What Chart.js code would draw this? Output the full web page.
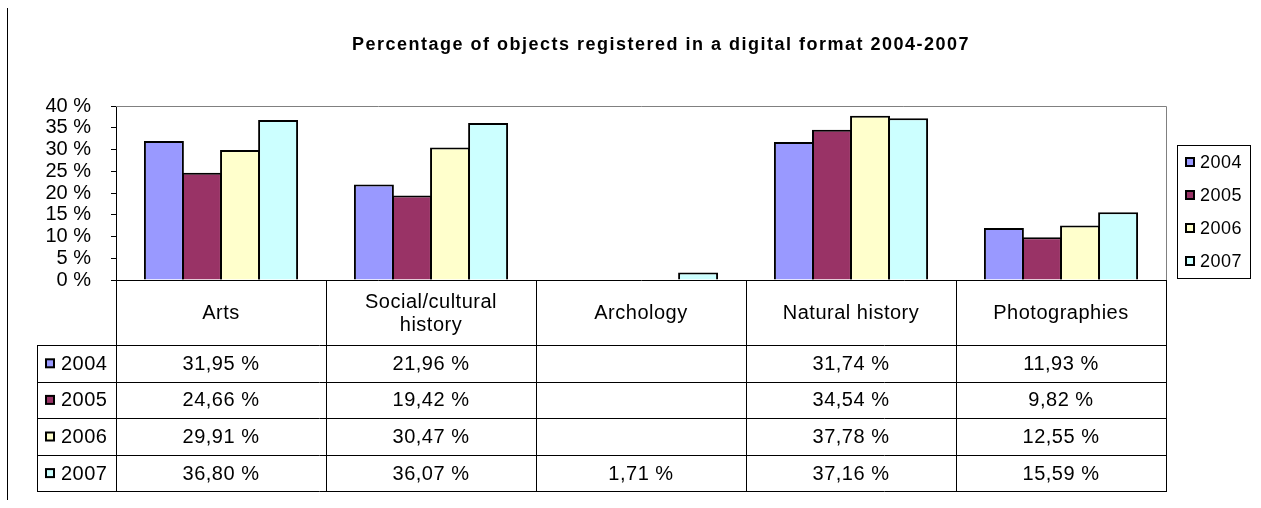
<!DOCTYPE html>
<html>
<head>
<meta charset="utf-8">
<script src="https://cdn.jsdelivr.net/npm/chart.js@4"></script>
<style>
  html, body { margin: 0; padding: 0; background: #fff; }
  #wrap { width: 1261px; height: 508px; position: relative; }
</style>
</head>
<body>
<div id="wrap"><canvas id="chart"></canvas></div>
<script>
// Categories and yearly values (percent)
const categories = ["Arts", ["Social/cultural", "history"], "Archology", "Natural history", "Photographies"];
const years = ["2004", "2005", "2006", "2007"];
const values2004 = [31.95, 21.96, null, 31.74, 11.93];
const values2005 = [24.66, 19.42, null, 34.54, 9.82];
const values2006 = [29.91, 30.47, null, 37.78, 12.55];
const values2007 = [36.80, 36.07, 1.71, 37.16, 15.59];
const yTicks = [0, 5, 10, 15, 20, 25, 30, 35, 40];
const titleText = "Percentage of objects registered in a digital format 2004-2007";

const colors = ["#9999FF", "#993366", "#FFFFCC", "#CCFFFF"];
const series = [values2004, values2005, values2006, values2007];
const FONT = "'Liberation Sans', Arial, sans-serif";

const fmt = (v) => v.toFixed(2).replace(".", ",") + " %";

// Draws title, plot frame, legend and the data table under the chart
const excelExtras = {
  id: "excelExtras",
  beforeDatasetsDraw(chart) {
    const { ctx, chartArea: a } = chart;
    ctx.save();
    ctx.strokeStyle = "#808080";
    ctx.lineWidth = 1;
    ctx.beginPath();
    ctx.moveTo(a.left, a.top + 0.5);
    ctx.lineTo(a.right + 0.5, a.top + 0.5);
    ctx.lineTo(a.right + 0.5, a.bottom);
    ctx.stroke();
    ctx.restore();
  },
  afterDraw(chart) {
    const { ctx, chartArea: a } = chart;
    const x = chart.scales.x;
    const colW = (a.right - a.left) / categories.length;
    ctx.save();

    // left frame line
    ctx.strokeStyle = "#000";
    ctx.lineWidth = 1;
    ctx.beginPath();
    ctx.moveTo(7.5, 8);
    ctx.lineTo(7.5, 500);
    ctx.stroke();

    // title
    ctx.fillStyle = "#000";
    ctx.font = "bold 18px " + FONT;
    ctx.letterSpacing = "1.5px";
    ctx.textAlign = "center";
    ctx.textBaseline = "middle";
    ctx.fillText(titleText, 661, 45);

    // legend
    ctx.strokeStyle = "#000";
    ctx.strokeRect(1177.5, 145.5, 73, 133);
    ctx.font = "18px " + FONT;
    ctx.letterSpacing = "0.5px";
    ctx.textAlign = "left";
    years.forEach((yr, i) => {
      const cy = 162 + i * 33;
      ctx.fillStyle = colors[i];
      ctx.fillRect(1186, cy - 4, 8, 8);
      ctx.lineWidth = 2;
      ctx.strokeRect(1186, cy - 4, 8, 8);
      ctx.fillStyle = "#000";
      ctx.fillText(yr, 1200, cy + 1);
    });

    // table
    const headTop = a.bottom;
    const headBot = 345;
    const rowH = 36.6;
    const tabLeft = 37;
    ctx.lineWidth = 1;
    ctx.strokeStyle = "#000";
    ctx.beginPath();
    ctx.moveTo(a.left, headTop + 0.5);
    ctx.lineTo(a.right + 1, headTop + 0.5);
    for (let i = 0; i <= categories.length; i++) {
      const cx = Math.round(a.left + i * colW) + 0.5;
      ctx.moveTo(cx, headTop);
      ctx.lineTo(cx, headBot + rowH * years.length);
    }
    for (let r = 0; r <= years.length; r++) {
      const ry = Math.round(headBot + r * rowH) + 0.5;
      ctx.moveTo(tabLeft, ry);
      ctx.lineTo(a.right + 1, ry);
    }
    ctx.moveTo(tabLeft + 0.5, headBot);
    ctx.lineTo(tabLeft + 0.5, Math.round(headBot + rowH * years.length) + 1);
    ctx.stroke();

    ctx.fillStyle = "#000";
    ctx.font = "20px " + FONT;
    ctx.letterSpacing = "0.5px";
    ctx.textAlign = "center";
    categories.forEach((c, i) => {
      const cx = x.getPixelForValue(i);
      const lines = Array.isArray(c) ? c : [c];
      const mid = (headTop + headBot) / 2 + 1;
      lines.forEach((ln, k) => {
        ctx.fillText(ln, cx, mid + (k - (lines.length - 1) / 2) * 23);
      });
    });
    series.forEach((vals, r) => {
      const cy = headBot + r * rowH + rowH / 2 + 1;
      vals.forEach((v, i) => {
        if (v == null) return;
        ctx.fillText(fmt(v), x.getPixelForValue(i), cy);
      });
      // row label with swatch
      ctx.fillStyle = colors[r];
      ctx.fillRect(46, cy - 5, 8, 8);
      ctx.lineWidth = 2;
      ctx.strokeRect(46, cy - 5, 8, 8);
      ctx.fillStyle = "#000";
      ctx.textAlign = "left";
      ctx.fillText(years[r], 61, cy);
      ctx.textAlign = "center";
    });
    ctx.restore();
  }
};

new Chart(document.getElementById("chart"), {
  type: "bar",
  data: {
    labels: categories,
    datasets: years.map((yr, i) => ({
      label: yr,
      data: series[i],
      backgroundColor: colors[i],
      borderColor: "#000",
      borderWidth: 2,
      categoryPercentage: 0.725,
      barPercentage: 1.05,
    })),
  },
  options: {
    responsive: true,
    maintainAspectRatio: false,
    animation: false,
    layout: { padding: { left: 20, right: 95, top: 106, bottom: 228 } },
    plugins: {
      legend: { display: false },
      title: { display: false },
      tooltip: { enabled: false },
    },
    scales: {
      x: { display: false },
      y: {
        min: 0,
        max: 40,
        afterFit: (s) => { s.width = 96; },
        afterBuildTicks: (s) => { s.ticks = yTicks.map((v) => ({ value: v })); },
        ticks: {
          autoSkip: false,
          padding: 20,
          color: "#000",
          font: { family: FONT, size: 20 },
          callback: (v) => v + " %",
        },
        grid: { drawOnChartArea: false, drawTicks: true, tickLength: 5, color: "#000" },
        border: { display: true, color: "#000", width: 1 },
      },
    },
  },
  plugins: [excelExtras],
});
</script>
</body>
</html>
